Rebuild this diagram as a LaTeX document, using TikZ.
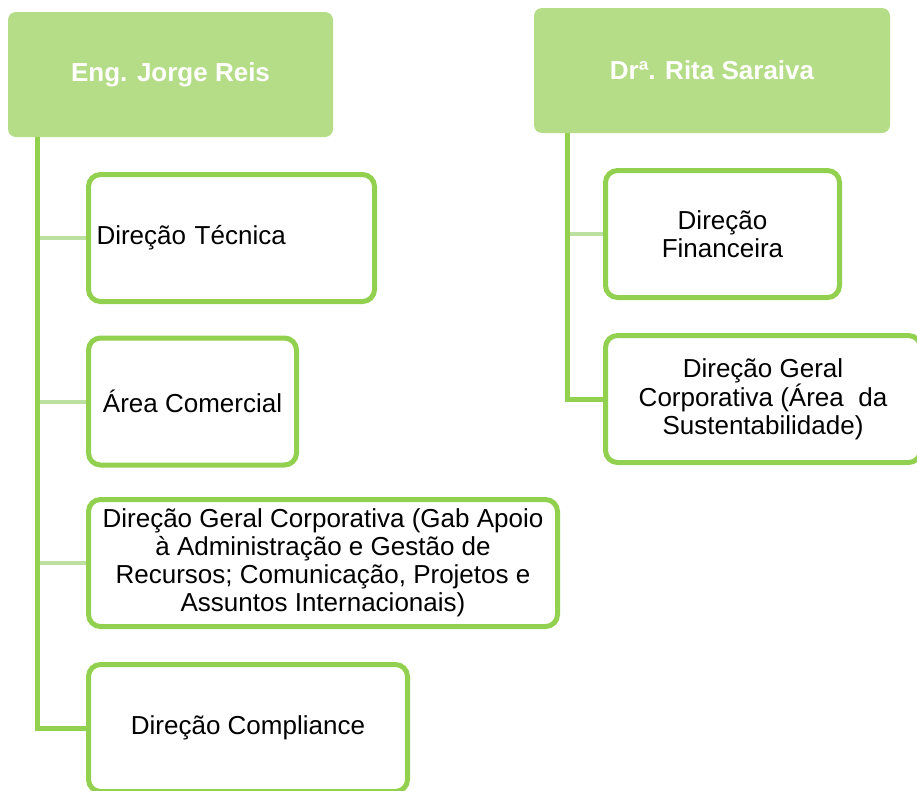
\documentclass[tikz,border=0pt]{standalone}
\usepackage{fontspec}
\setmainfont{Liberation Sans}
\definecolor{chefeverde}{RGB}{181,221,135}
\definecolor{bordaverde}{RGB}{146,208,80}
\definecolor{ramoverde}{RGB}{188,224,160}
\tikzset{
  chefebox/.style={rectangle,rounded corners=8pt,fill=chefeverde,text=white,font=\fontsize{26}{28}\selectfont\bfseries,inner sep=0pt},
  areabox/.style={rectangle,rounded corners=12pt,draw=bordaverde,line width=5pt,fill=white,align=center,font=\fontsize{26}{28}\selectfont,inner sep=0pt,minimum height=127pt},
  tronco/.style={draw=bordaverde,line width=5pt},
  ramo/.style={draw=ramoverde,line width=4pt}
}
\begin{document}
\begin{tikzpicture}[x=1pt,y=-1pt]
        \useasboundingbox (0,0) rectangle (917,790);
        \clip (0,0) rectangle (917,790);
        \node[chefebox,minimum width=325pt,minimum height=125pt](jorge)at(170.5,74.5){Eng. Jorge Reis};
        \node[chefebox,minimum width=356pt,minimum height=125pt](rita)at(712,70.5){Drª. Rita Saraiva};

        \node[areabox,minimum width=286pt,text width=270pt,align=left](tecnica)at(231.5,238){Direção Técnica};
        \node[areabox,minimum width=208pt](comercial)at(192.5,401.5){Área Comercial};
        \node[areabox,minimum width=469pt](corporativa)at(323,563){Direção Geral Corporativa (Gab Apoio\\à Administração e Gestão de\\Recursos; Comunicação, Projetos e\\Assuntos Internacionais)};
        \node[areabox,minimum width=319pt](compliance)at(248,728){Direção Compliance};
        \node[areabox,minimum width=234pt](financeira)at(722.5,234){Direção\\Financeira};
        \node[areabox,minimum width=315pt](geral)at(763,399){Direção Geral\\Corporativa (Área~ da\\Sustentabilidade)};

        \coordinate (ta) at ([xshift=30pt]jorge.south west);
        \coordinate (tb) at ([xshift=34pt]rita.south west);
        \foreach \n in {tecnica,comercial,corporativa} \draw[ramo] (\n.west) -- (\n.west -| ta);
        \draw[ramo] (financeira.west) -- (financeira.west -| tb);
        \draw[tronco] (ta) |- (compliance.west);
        \draw[tronco] (tb) |- (geral.west);
    \end{tikzpicture}
\end{document}
